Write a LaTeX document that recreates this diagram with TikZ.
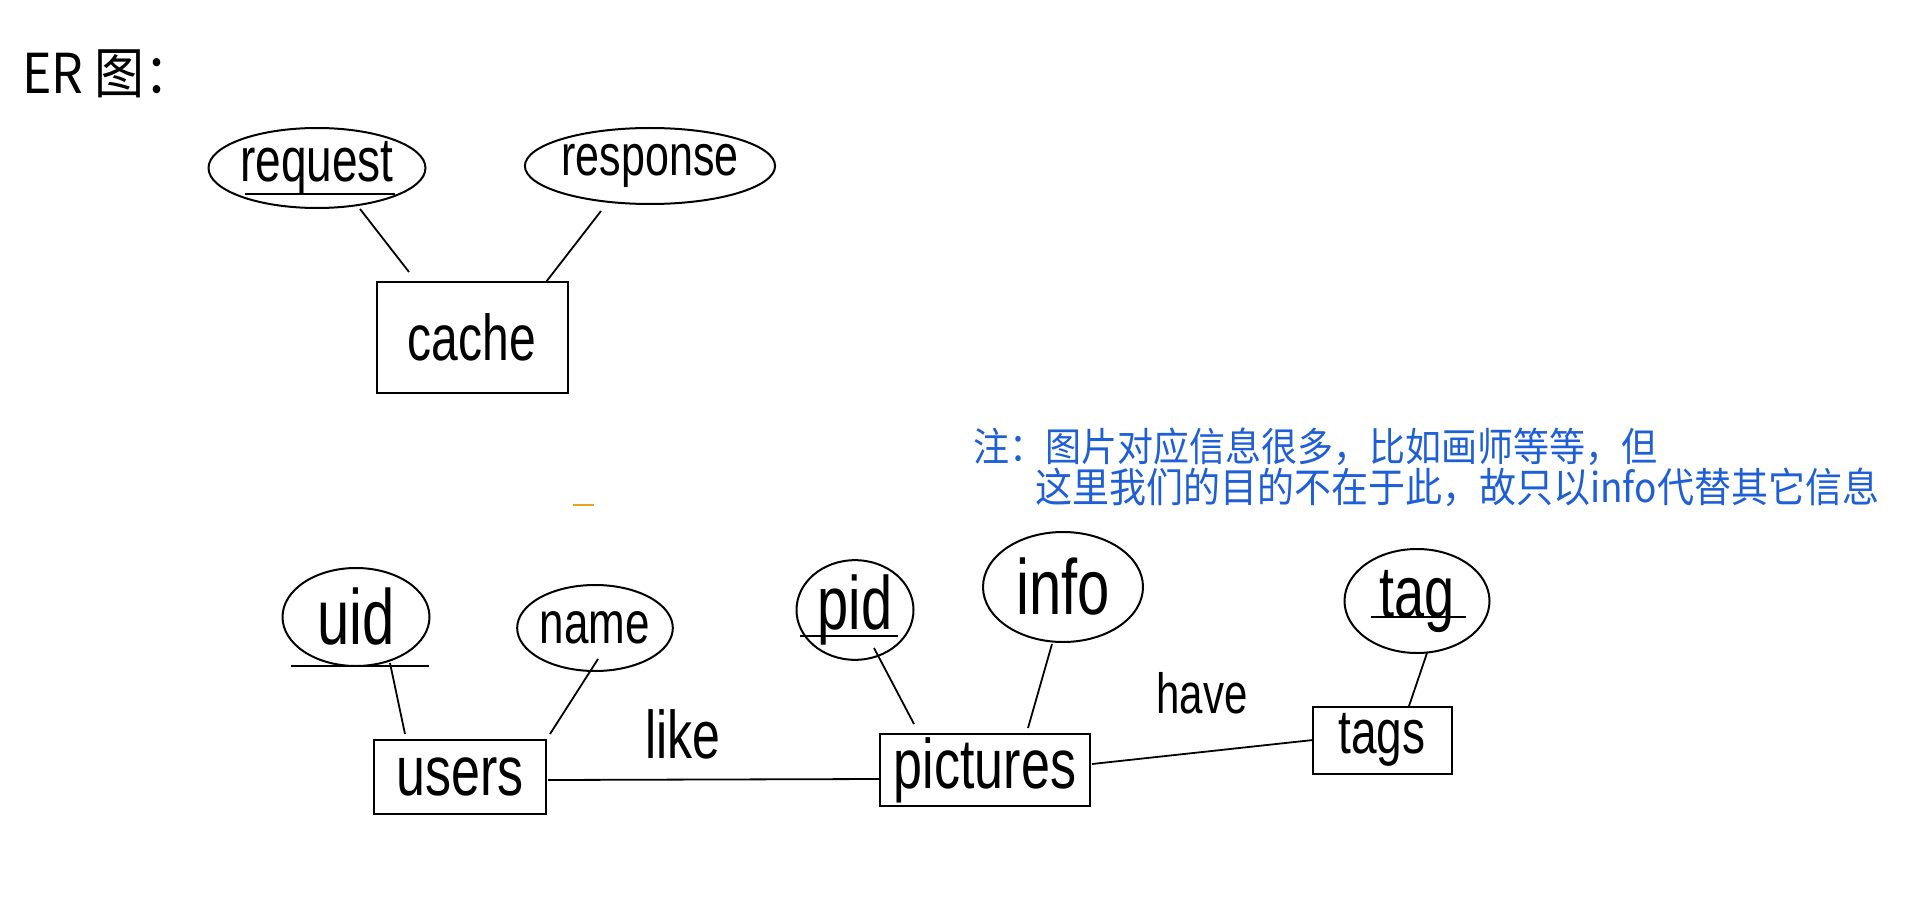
\documentclass[tikz,border=0pt]{standalone}
\usepackage{graphicx}
\usepackage{fontspec}
\setmainfont{Liberation Sans}
\newfontfamily\cjk{Noto Sans CJK SC}
\usetikzlibrary{shapes.geometric}
\definecolor{noteblue}{HTML}{1E5FD8}
\definecolor{dashorange}{HTML}{F0A020}
\tikzset{
  attr/.style={ellipse, draw, line width=2pt, inner sep=0pt},
  ent/.style={rectangle, draw, line width=2pt, inner sep=0pt},
  conn/.style={line width=1.8pt},
  uline/.style={line width=2pt},
  lbl/.style={inner sep=0pt},
}
\newcommand{\fs}[1]{\fontsize{#1}{#1}\selectfont}
\newcommand{\tall}[1]{\scalebox{1}[1.35]{#1}}
\begin{document}
\begin{tikzpicture}[x=1pt,y=-1pt]
\useasboundingbox (0,0) rectangle (1924,912);
% title
\node[lbl, anchor=west] (title) at (22,74) {\cjk\fs{50}\scalebox{1}[1.1]{ER 图：}};
% cache part
\node[attr, minimum width=202pt, minimum height=80pt] (request) at (317,168) {\fs{46}\tall{request}};
\node[attr, minimum width=208pt, minimum height=76pt] (response) at (650,166) {\fs{43}\tall{response}};
\node[ent, minimum width=191pt, minimum height=111pt] (cache) at (472,337) {\fs{48}\tall{cache}};
\draw[uline] ([shift={(-72,26)}]request.center) -- ([shift={(78,26)}]request.center);
\draw[conn] ([shift={(43,41)}]request.center) -- ([shift={(-63,-65)}]cache.center);
\draw[conn] ([shift={(-49,45)}]response.center) -- ([shift={(74,-55)}]cache.center);
% orange mark
\draw[line width=1.5pt, dashorange] (573,505) -- (594,505);
% note
\node[lbl, anchor=west, text=noteblue] (note1) at (973,447) {\cjk\fs{36}\scalebox{1}[1.1]{注：图片对应信息很多，比如画师等等，但}};
\node[lbl, anchor=west, text=noteblue] (note2) at (1035,487) {\cjk\fs{37}\scalebox{1}[1.1]{这里我们的目的不在于此，故只以info代替其它信息}};
% lower ER
\node[attr, minimum width=147pt, minimum height=98pt] (uid) at (356,617) {\fs{58}\tall{uid}};
\node[attr, minimum width=135pt, minimum height=86pt] (name) at (595,628) {\fs{44}\tall{name}};
\node[ent, minimum width=172pt, minimum height=74pt] (users) at (460,777) {\fs{52}\tall{users}};
\node[attr, minimum width=117pt, minimum height=83pt] (pid) at (855,610) {\fs{56}\tall{pid}};
\node[attr, minimum width=160pt, minimum height=110pt] (info) at (1063,587) {\fs{58}\tall{info}};
\node[ent, minimum width=210pt, minimum height=72pt] (pictures) at (985,770) {\fs{52}\tall{pictures}};
\node[attr, minimum width=145pt, minimum height=104pt] (tag) at (1417,601) {\fs{54}\tall{tag}};
\node[ent, minimum width=139pt, minimum height=67pt] (tags) at (1382,740) {\fs{46}\tall{tags}};
\node[lbl] (like) at (683,734) {\fs{50}\tall{like}};
\node[lbl] (have) at (1202,693) {\fs{42}\tall{have}};
% underlines
\draw[uline] ([shift={(-65,49)}]uid.center) -- ([shift={(73,49)}]uid.center);
\draw[uline] ([shift={(-55,26)}]pid.center) -- ([shift={(43,26)}]pid.center);
\draw[uline] ([shift={(-46,16)}]tag.center) -- ([shift={(49,16)}]tag.center);
% connectors
\draw[conn] ([shift={(34,46)}]uid.center) -- ([shift={(-55,-43)}]users.center);
\draw[conn] ([shift={(3,31)}]name.center) -- ([shift={(90,-43)}]users.center);
\draw[conn] ([shift={(19,38)}]pid.center) -- ([shift={(-71,-46)}]pictures.center);
\draw[conn] ([shift={(-11,57)}]info.center) -- ([shift={(43,-42)}]pictures.center);
\draw[conn] ([shift={(10,52)}]tag.center) -- ([shift={(27,-34)}]tags.center);
\draw[conn] ([shift={(88,3)}]users.center) -- ([shift={(-105,9)}]pictures.center);
\draw[conn] ([shift={(107,-6)}]pictures.center) -- ([shift={(-69,0)}]tags.center);
\end{tikzpicture}
\end{document}
